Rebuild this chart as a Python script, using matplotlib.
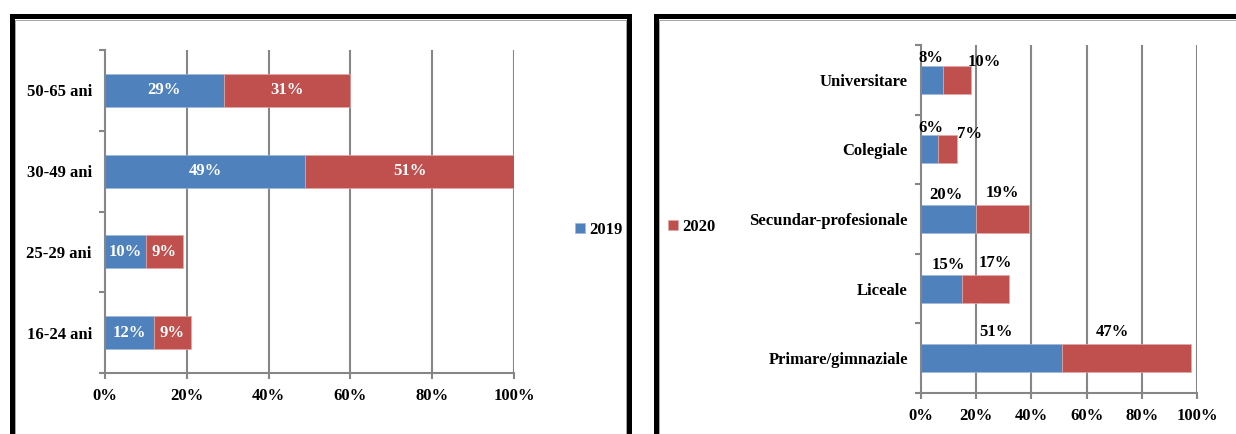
import matplotlib
matplotlib.use("Agg")
import matplotlib.pyplot as plt
from matplotlib.patches import Rectangle

# ---- data -------------------------------------------------------------
age_groups = ['16-24 ani', '25-29 ani', '30-49 ani', '50-65 ani']
age_2019 = [12, 10, 49, 29]
age_2020 = [9, 9, 51, 31]

edu_levels = ['Primare/gimnaziale', 'Liceale', 'Secundar-profesionale',
              'Colegiale', 'Universitare']
edu_2019 = [51, 15, 20, 6, 8]
edu_2020 = [47, 17, 19, 7, 10]

x_ticks = [0, 20, 40, 60, 80, 100]
x_ticklabels = ['0%', '20%', '40%', '60%', '80%', '100%']

# label nudges (pixels) for the right chart, as in the original layout
edu_dx_2019 = [5, 7, -3, 2, -1]
edu_dx_2020 = [-14, 9, 0, 22, 27]
edu_dy_2019 = [12, 10, 10, 7, 8]
edu_dy_2020 = [12, 12, 12, 1, 4]

# ---- style ------------------------------------------------------------
W, H, DPI = 1236, 434, 100
blue = '#4F81BD'
red = '#C0504D'
grey = '#868686'
font = dict(family='Liberation Serif', weight='bold', size=12)
px = 72.0 / DPI

plt.rcParams['font.family'] = 'Liberation Serif'
plt.rcParams['font.weight'] = 'bold'

fig = plt.figure(figsize=(W / DPI, H / DPI), dpi=DPI)


def frac_axes(l, t, r, b):
    return fig.add_axes([l / W, 1 - b / H, (r - l) / W, (b - t) / H])


def style_axes(ax, n):
    ax.set_xlim(0, 100)
    ax.set_ylim(-0.5, n - 0.5)
    ax.set_xticks(x_ticks)
    ax.set_xticklabels(x_ticklabels, **font)
    ax.set_yticks([i - 0.5 for i in range(n + 1)], minor=False)
    ax.set_yticklabels([])
    ax.tick_params(axis='y', which='major', length=4, width=1.5, color=grey)
    ax.tick_params(axis='y', which='minor', length=0, pad=9.5)
    ax.tick_params(axis='x', length=4, width=1.5, color=grey, pad=7)
    for s in ['top', 'right']:
        ax.spines[s].set_visible(False)
    for s in ['left', 'bottom']:
        ax.spines[s].set_color(grey)
        ax.spines[s].set_linewidth(1.5)
    for x in x_ticks[1:]:
        ax.axvline(x, color=grey, lw=1.5, zorder=0)


# ---- left chart: age groups ----------------------------------------
ax1 = frac_axes(105, 50, 514, 373)
y1 = range(len(age_groups))
b19 = ax1.barh(y1, age_2019, height=0.41, color=blue, edgecolor='#9fb8d9', lw=0.5, zorder=2)
b20 = ax1.barh(y1, age_2020, left=age_2019, height=0.41, color=red, edgecolor='#e0a9a8', lw=0.5, zorder=2)
style_axes(ax1, len(age_groups))
ax1.set_yticks(list(y1), minor=True)
ax1.set_yticklabels(age_groups, minor=True, **font)
for i in y1:
    ax1.text(age_2019[i] / 2, i, f'{age_2019[i]}%', color='white', ha='center', va='center', **font)
    ax1.text(age_2019[i] + age_2020[i] / 2, i, f'{age_2020[i]}%', color='white', ha='center', va='center', **font)
ax1.legend([b19], ['2019'], loc='center left', bbox_to_anchor=(575 / W, 1 - 230 / H),
           bbox_transform=fig.transFigure, frameon=False, prop=font, borderaxespad=0,
           handlelength=0.6, handleheight=0.6, handletextpad=0.25, borderpad=0)

# ---- right chart: education level ----------------------------------
ax2 = frac_axes(921, 45, 1197, 393)
y2 = range(len(edu_levels))
e19 = ax2.barh(y2, edu_2019, height=0.4, color=blue, edgecolor='#9fb8d9', lw=0.5, zorder=2)
e20 = ax2.barh(y2, edu_2020, left=edu_2019, height=0.4, color=red, edgecolor='#e0a9a8', lw=0.5, zorder=2)
style_axes(ax2, len(edu_levels))
ax2.set_yticks(list(y2), minor=True)
ax2.set_yticklabels(edu_levels, minor=True, **font)
for i in y2:
    ax2.annotate(f'{edu_2019[i]}%', (edu_2019[i] / 2, i + 0.2),
                 xytext=(edu_dx_2019[i] * px, edu_dy_2019[i] * px), textcoords='offset points',
                 ha='center', va='center', color='black', **font)
    ax2.annotate(f'{edu_2020[i]}%', (edu_2019[i] + edu_2020[i] / 2, i + 0.2),
                 xytext=(edu_dx_2020[i] * px, edu_dy_2020[i] * px), textcoords='offset points',
                 ha='center', va='center', color='black', **font)
ax2.legend([e20], ['2020'], loc='center left', bbox_to_anchor=(668 / W, 1 - 227 / H),
           bbox_transform=fig.transFigure, frameon=False, prop=font, borderaxespad=0,
           handlelength=0.6, handleheight=0.6, handletextpad=0.25, borderpad=0)

# ---- panel frames ---------------------------------------------------
for l, r in [(11.5, 629), (655.5, 1300)]:
    fig.add_artist(Rectangle((l / W, -0.2), (r - l) / W, 1.2 - 15.5 / H,
                             transform=fig.transFigure, fill=False, ec='black', lw=5 * px))
    fig.add_artist(Rectangle(((l + 3.5) / W, -0.2), (r - l - 7) / W, 1.2 - 19.5 / H,
                             transform=fig.transFigure, fill=False, ec='#a6a6a6', lw=1 * px))

fig.savefig('out.png', dpi=DPI, facecolor='white')
